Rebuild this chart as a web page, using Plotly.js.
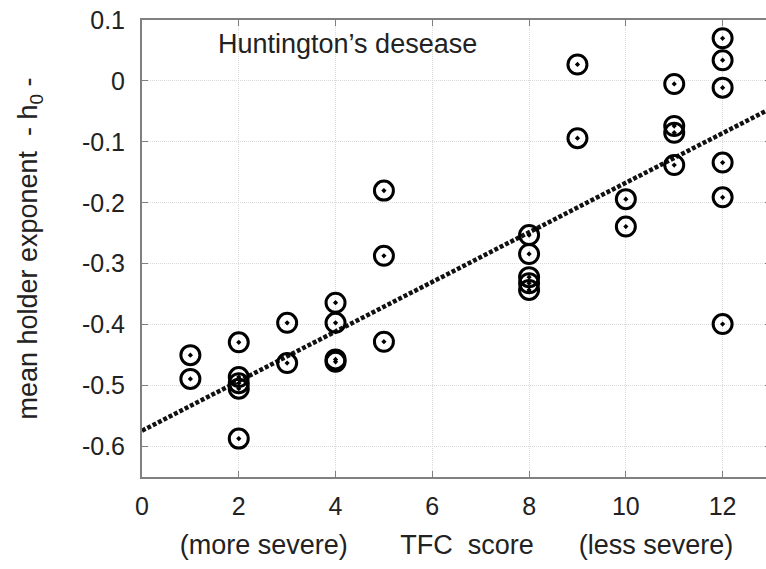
<!DOCTYPE html>
<html>
<head>
<meta charset="utf-8">
<script src="https://cdn.plot.ly/plotly-3.0.1.min.js"></script>
<style>
html, body { margin: 0; padding: 0; overflow: hidden; background: #fff; }
#chart { width: 772px; height: 569px; }
</style>
</head>
<body>
<div id="chart"></div>
<script>
// TFC score (x) and mean holder exponent h0 (y)
const tfcScore = [1, 1,
  2, 2, 2, 2, 2,
  3, 3,
  4, 4, 4, 4,
  5, 5, 5,
  8, 8, 8, 8, 8,
  9, 9,
  10, 10,
  11, 11, 11, 11,
  12, 12, 12, 12, 12, 12];
const holderExp = [-0.450, -0.489,
  -0.429, -0.486, -0.496, -0.505, -0.587,
  -0.397, -0.463,
  -0.364, -0.397, -0.457, -0.461,
  -0.180, -0.287, -0.428,
  -0.253, -0.284, -0.322, -0.332, -0.343,
  0.027, -0.094,
  -0.194, -0.239,
  -0.005, -0.074, -0.085, -0.138,
  0.070, 0.034, -0.011, -0.134, -0.191, -0.399];

// regression line end points
const fitX = [0, 13];
const fitY = [-0.574, -0.045];

// tick labels
const xTicks = [0, 2, 4, 6, 8, 10, 12];
const yTicks = [-0.6, -0.5, -0.4, -0.3, -0.2, -0.1, 0, 0.1];
const yTickText = ['-0.6', '-0.5', '-0.4', '-0.3', '-0.2', '-0.1', '0', '0.1'];

const FONT = 'Liberation Sans, Arial, sans-serif';
const NB = '\u00a0';

const traces = [
  {
    x: fitX, y: fitY, type: 'scatter', mode: 'lines',
    line: { color: '#111', width: 4.5, dash: '4px,2px' },
    hoverinfo: 'skip', showlegend: false
  },
  {
    x: tfcScore, y: holderExp, type: 'scatter', mode: 'markers',
    marker: { symbol: 'circle-open-dot', size: 19, color: '#000',
              line: { color: '#000', width: 3 } },
    showlegend: false
  }
];

const axisCommon = {
  showline: true, linecolor: '#808080', linewidth: 2, mirror: 'ticks',
  ticks: 'inside', ticklen: 6, tickwidth: 1, tickcolor: '#808080',
  showgrid: true, gridcolor: '#dadada', gridwidth: 1, griddash: '1px,1px',
  zeroline: false,
  tickfont: { family: FONT, size: 25, color: '#222' }
};

const layout = {
  width: 772, height: 569,
  margin: { l: 142, r: 1, t: 20, b: 92 },
  paper_bgcolor: '#fff', plot_bgcolor: '#fff',
  font: { family: FONT, color: '#222' },
  xaxis: Object.assign({}, axisCommon, {
    range: [0, 13], tickmode: 'array', tickvals: xTicks,
    ticktext: xTicks.map(String), ticklabelstandoff: 6,
    title: { text: '(more severe)' + NB.repeat(7) + 'TFC' + NB.repeat(2) + 'score' + NB.repeat(6) + '(less severe)',
             font: { family: FONT, size: 27, color: '#222' }, standoff: 16 }
  }),
  yaxis: Object.assign({}, axisCommon, {
    range: [-0.65, 0.1], tickmode: 'array', tickvals: yTicks, ticktext: yTickText,
    ticklabelstandoff: 10,
    title: { text: 'mean holder exponent' + NB + NB + '-' + NB + 'h<sub>0</sub>' + NB + '-',
             font: { family: FONT, size: 27, color: '#222' }, standoff: 36 }
  }),
  annotations: [{
    text: 'Huntington’s desease', xref: 'x', yref: 'y',
    x: 1.53, y: 0.06, xanchor: 'left', yanchor: 'middle', showarrow: false,
    font: { family: FONT, size: 27, color: '#222' }
  }]
};

Plotly.newPlot('chart', traces, layout, { displayModeBar: false, staticPlot: true });
</script>
</body>
</html>
